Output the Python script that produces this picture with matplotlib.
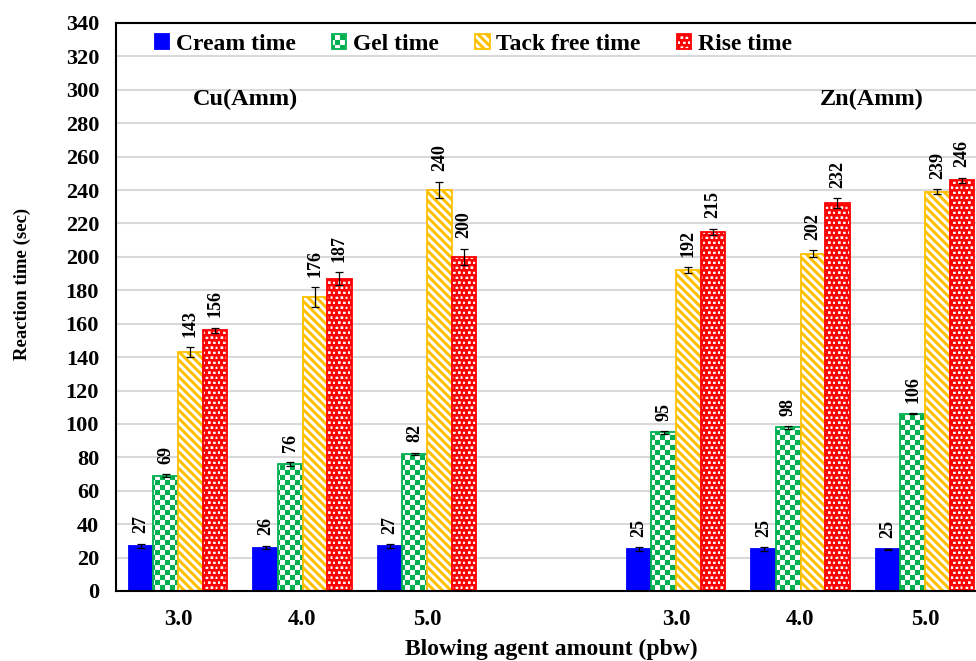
import numpy as np
import matplotlib
matplotlib.use("Agg")
import matplotlib.pyplot as plt
from matplotlib import hatch as mhatch
from matplotlib.path import Path

# ---- data -------------------------------------------------------------
levels = ["3.0", "4.0", "5.0", "3.0", "4.0", "5.0"]
positions = [0, 1, 2, 4, 5, 6]
series_names = ["Cream time", "Gel time", "Tack free time", "Rise time"]

cream = [27, 26, 27, 25, 25, 25]
cream_err = [1.2, 1.0, 1.0, 1.2, 1.2, 0.4]
gel = [69, 76, 82, 95, 98, 106]
gel_err = [1.0, 1.2, 0.8, 0.8, 0.8, 0.3]
tack = [143, 176, 240, 192, 202, 239]
tack_err = [3.0, 6.0, 5.0, 1.8, 2.0, 1.5]
rise = [156, 187, 200, 215, 232, 246]
rise_err = [1.5, 4.0, 5.0, 1.8, 3.0, 1.5]

group_labels = ["Cu(Amm)", "Zn(Amm)"]


# ---- fill patterns (checkerboard, wide diagonal bands, confetti) -------
class CheckerPattern(mhatch.HatchPatternBase):
    def __init__(self, hatch, density):
        self.n = 20 if "+" in hatch else 0
        self.num_vertices = (self.n * self.n // 2) * 5

    def set_vertices_and_codes(self, vertices, codes):
        s = 1.0 / self.n
        k = 0
        for i in range(self.n):
            for j in range(self.n):
                if (i + j) % 2:
                    continue
                x0, y0 = i * s, j * s
                vertices[k:k + 5] = [(x0, y0), (x0 + s, y0), (x0 + s, y0 + s),
                                     (x0, y0 + s), (x0, y0)]
                codes[k:k + 5] = [Path.MOVETO, Path.LINETO, Path.LINETO,
                                  Path.LINETO, Path.CLOSEPOLY]
                k += 5


class BandPattern(mhatch.HatchPatternBase):
    def __init__(self, hatch, density):
        self.n = 12 if "\\" in hatch else 0
        self.frac = 0.5
        if self.n:
            self.ks = list(range(-self.n, 3 * self.n + 2))
        else:
            self.ks = []
        self.num_vertices = len(self.ks) * 5

    def set_vertices_and_codes(self, vertices, codes):
        p = 1.0 / self.n
        w = p * self.frac
        k = 0
        for kk in self.ks:
            c = kk * p
            vertices[k:k + 5] = [(-0.5, c + 0.5), (1.5, c - 1.5),
                                 (1.5, c + w - 1.5), (-0.5, c + w + 0.5),
                                 (-0.5, c + 0.5)]
            codes[k:k + 5] = [Path.MOVETO, Path.LINETO, Path.LINETO,
                              Path.LINETO, Path.CLOSEPOLY]
            k += 5


class ConfettiPattern(mhatch.HatchPatternBase):
    def __init__(self, hatch, density):
        self.m = 20 if "." in hatch else 0
        self.num_vertices = (1 + self.m * self.m) * 5 if self.m else 0

    def set_vertices_and_codes(self, vertices, codes):
        sq = [Path.MOVETO, Path.LINETO, Path.LINETO, Path.LINETO, Path.CLOSEPOLY]
        vertices[0:5] = [(0, 0), (1, 0), (1, 1), (0, 1), (0, 0)]
        codes[0:5] = sq
        k = 5
        s = 1.0 / self.m
        for r in range(self.m):
            for c in range(self.m):
                shift = 0.5 * s if r % 2 else 0.0
                w = s * (0.55 if (r * 3 + c * 2) % 3 else 0.4)
                h = s * (0.45 if (r + c * 3) % 2 else 0.55)
                x0 = c * s + shift + 0.1 * s
                y0 = r * s + 0.2 * s
                # clockwise ring -> hole in the filled tile
                vertices[k:k + 5] = [(x0, y0), (x0, y0 + h), (x0 + w, y0 + h),
                                     (x0 + w, y0), (x0, y0)]
                codes[k:k + 5] = sq
                k += 5


mhatch._hatch_types = [CheckerPattern, BandPattern, ConfettiPattern]

plt.rcParams["font.family"] = ["Liberation Serif", "DejaVu Serif"]
plt.rcParams["font.weight"] = "bold"
plt.rcParams["hatch.linewidth"] = 0.05

# ---- figure -----------------------------------------------------------
W, H = 976, 661
fig = plt.figure(figsize=(W / 100, H / 100), dpi=100)
x_left, x_right, y_top, y_bot = 115.75, 987.25, 23, 591
ax = fig.add_axes([x_left / W, 1 - y_bot / H, (x_right - x_left) / W,
                   (y_bot - y_top) / H])

x = np.array(positions, dtype=float)
bw = 0.197
styles = [
    dict(facecolor="#0000FF", edgecolor="#0000FF", hatch=None),
    dict(facecolor="white", edgecolor="#00B050", hatch="+"),
    dict(facecolor="white", edgecolor="#FFC000", hatch="\\"),
    dict(facecolor="white", edgecolor="#FF0000", hatch="."),
]
values = [cream, gel, tack, rise]
errors = [cream_err, gel_err, tack_err, rise_err]

handles = []
for i, (vals, errs, st, name) in enumerate(zip(values, errors, styles, series_names)):
    xs = x + (i - 1.5) * bw
    bars = ax.bar(xs, vals, width=bw, linewidth=1.3, label=name, zorder=2, **st)
    handles.append(bars)
    ax.errorbar(xs, vals, yerr=errs, fmt="none", ecolor="black",
                elinewidth=0.9, capsize=3, capthick=0.9, zorder=3)
    for xi, v, e in zip(xs, vals, errs):
        ax.annotate(f"{v}", (xi, v + e), xytext=(0, 7.5), textcoords="offset points",
                    rotation=90, ha="center", va="bottom", fontsize=13,
                    fontweight="bold", color="black")

ax.set_xlim(-0.5, 6.5)
ax.set_ylim(0, 340)
ax.set_yticks(np.arange(0, 341, 20))
ax.set_xticks(x)
ax.set_xticklabels(levels)
ax.tick_params(axis="y", length=0, pad=12, labelsize=16)
ax.tick_params(axis="x", length=0, pad=13, labelsize=16.5)
ax.yaxis.grid(True, color="#D9D9D9", linewidth=1.5)
ax.set_axisbelow(True)
for side in ["left", "top", "bottom"]:
    ax.spines[side].set_linewidth(1.5)
    ax.spines[side].set_color("black")
ax.spines["right"].set_visible(False)

ax.set_ylabel("Reaction time (sec)", fontsize=13.5, fontweight="bold")
ax.yaxis.set_label_coords(-0.097, 0.54)
ax.set_xlabel("Blowing agent amount (pbw)", fontsize=17, fontweight="bold")
ax.xaxis.set_label_coords(0.5, -0.084)

ax.text(0.54, 294, group_labels[0], ha="center", va="center", fontsize=17.5,
        fontweight="bold")
ax.text(5.57, 294, group_labels[1], ha="center", va="center", fontsize=17.5,
        fontweight="bold")

ax.legend(handles=handles, loc="center left", bbox_to_anchor=(0.045, 0.962),
          ncol=4, frameon=False, fontsize=17, handlelength=0.6,
          handleheight=0.6, handletextpad=0.28, columnspacing=1.55,
          borderpad=0, borderaxespad=0)

fig.savefig("out.png", dpi=100)
